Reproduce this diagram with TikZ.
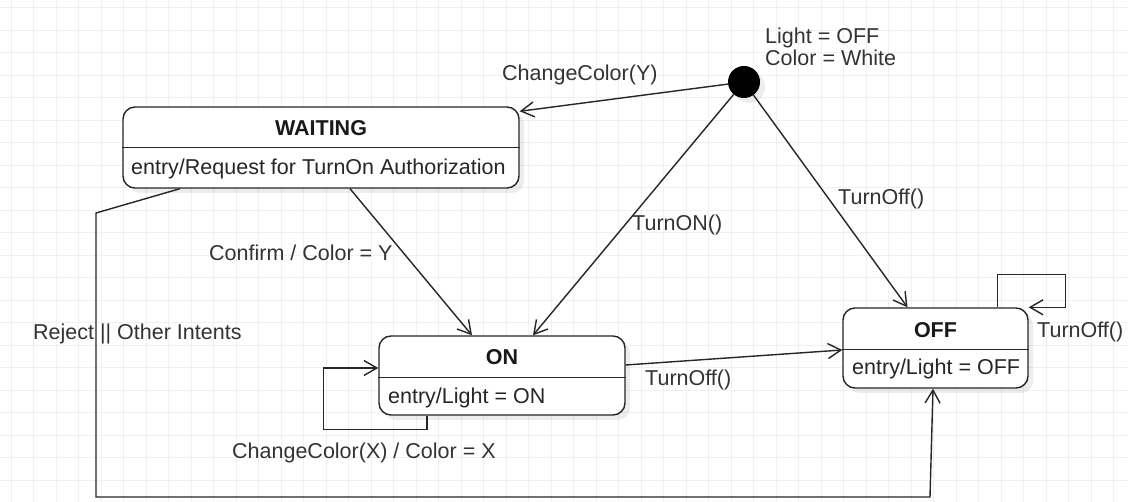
\documentclass[tikz,border=0pt]{standalone}
\usepackage{fontspec}
\setmainfont{Liberation Sans}
\usetikzlibrary{arrows.meta,calc,shadows}
\begin{document}
\begin{tikzpicture}[x=1pt,y=-1pt,
  font=\fontsize{21.5}{25}\selectfont,
  line/.style={draw=black!85, line width=1.4pt},
  trans/.style={line, -{Straight Barb[length=13pt,width=15pt,line width=1.4pt]}},
  softshadow/.style={drop shadow={shadow xshift=5pt, shadow yshift=-5pt, fill=black, opacity=0.07}},
  statebox/.style={draw=black!85, line width=1.4pt, fill=white, rounded corners=12pt, inner sep=0pt, softshadow},
  lbl/.style={text=black!80, inner sep=0pt, anchor=base west},
  title/.style={text=black!90, inner sep=0pt, anchor=base, font=\fontsize{21.5}{25}\selectfont\bfseries},
  entry/.style={text=black!85, inner sep=0pt, anchor=base west},
  gridline/.style={draw=black!6, line width=0.8pt}
  ]
\fill[white] (0,0) rectangle (1128,502);
\useasboundingbox (0,0) rectangle (1128,502);
\foreach \i in {0,...,49} \draw[gridline] ({11+22.5*\i},0) -- ++(0,502);
\foreach \j in {0,...,22} \draw[gridline] (0,{7.5+22.5*\j}) -- ++(1128,0);

% states
\node[statebox, minimum width=396pt, minimum height=81pt] (waiting) at (321,147.5) {};
\draw[line] ([yshift=-41.5pt]waiting.north west) -- ([yshift=-41.5pt]waiting.north east);
\node[title] (waitingT) at (321,136) {WAITING};
\node[entry] (waitingE) at (131,175) {entry/Request for TurnOn Authorization};

\node[statebox, minimum width=246pt, minimum height=79pt] (on) at (502,375.5) {};
\draw[line] ([yshift=-42pt]on.north west) -- ([yshift=-42pt]on.north east);
\node[title] (onT) at (502,365) {ON};
\node[entry] (onE) at (388,404) {entry/Light = ON};

\node[statebox, minimum width=185pt, minimum height=80pt] (off) at (935.5,348) {};
\draw[line] ([yshift=-42pt]off.north west) -- ([yshift=-42pt]off.north east);
\node[title] (offT) at (935.5,338) {OFF};
\node[entry] (offE) at (852,375) {entry/Light = OFF};

\node[circle, fill=black, minimum size=32pt, inner sep=0pt, softshadow] (init) at (744,82) {};
\node[lbl] (initL1) at (765,44) {Light = OFF};
\node[lbl] (initL2) at (765,66) {Color = White};

% transitions
\draw[trans] (init) -- ([yshift=-5pt]waiting.north east);
\draw[trans] (init) -- ([xshift=31pt]on.north);
\draw[trans] (init) -- ([xshift=-28pt]off.north);
\draw[trans] ([xshift=29pt]waiting.south) -- ([xshift=-30pt]on.north);
\draw[trans] ([yshift=10.5pt]on.east) -- ([yshift=-2pt]off.west);
\draw[trans] ([xshift=-75pt]on.south) -- ++(0,14) -| ([xshift=-55pt,yshift=7.5pt]on.west) -- ([yshift=7.5pt]on.west);
\draw[trans] ([xshift=62pt]off.north) -- ++(0,-33) -- ++(68,0) |- (off.north east);
\coordinate (r1) at (96,213);
\coordinate (r2) at (96,497);
\coordinate (r3) at (930,497);
\draw[trans] ([xshift=-141pt]waiting.south) -- (r1) -- (r2) -- (r3) -- ([xshift=-2.5pt]off.south);

% labels
\node[lbl] (l1) at (502,81) {ChangeColor(Y)};
\node[lbl] (l2) at (632,231) {TurnON()};
\node[lbl] (l3) at (838,205) {TurnOff()};
\node[lbl] (l4) at (209,261) {Confirm / Color = Y};
\node[lbl] (l5) at (645,386) {TurnOff()};
\node[lbl] (l6) at (232,459) {ChangeColor(X) / Color = X};
\node[lbl] (l7) at (1037,338) {TurnOff()};
\node[lbl] (l8) at (33,340) {Reject || Other Intents};
\end{tikzpicture}
\end{document}
